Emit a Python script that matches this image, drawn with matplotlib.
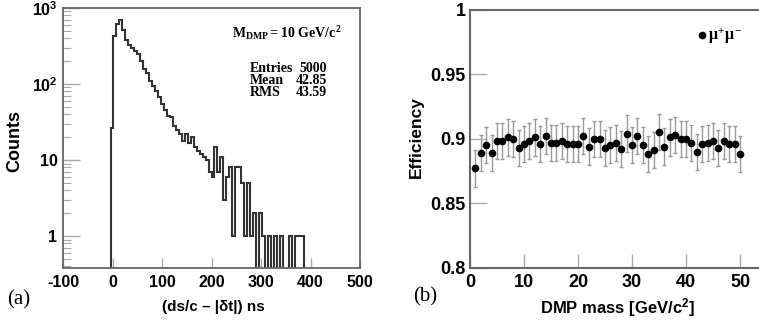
import numpy as np
import matplotlib.pyplot as plt
from matplotlib.lines import Line2D

plt.rcParams['font.family'] = ['Liberation Sans', 'DejaVu Sans']
plt.rcParams['font.weight'] = 'bold'
plt.rcParams['axes.unicode_minus'] = False
plt.rcParams['mathtext.fontset'] = 'custom'
plt.rcParams['mathtext.rm'] = 'Liberation Serif:bold'
plt.rcParams['mathtext.it'] = 'Liberation Serif'
plt.rcParams['mathtext.bf'] = 'Liberation Sans:bold'

# (a) histogram of ds/c - |dt|, 100 bins from -100 to 500 ns
bin_lo, bin_hi, n_bins = -100, 500, 100
first_bin = -4  # left edge of first filled bin
counts = [26, 430, 610, 700, 520, 380, 330, 300, 270, 250,
          200, 160, 140, 110, 95, 80, 68, 55, 45, 38,
          37, 28, 25, 22, 18, 22, 17, 20, 15, 13,
          12, 11, 10, 7, 6, 15, 7, 11, 3, 6,
          8, 1, 8, 8, 5, 1, 5, 1, 2, 0,
          2, 1, 0, 1, 0, 1, 0, 1, 0, 0,
          1, 0, 1, 1, 1, 0]
hist_xticks = [-100, 0, 100, 200, 300, 400, 500]
hist_yticks = [1, 10, 100, 1000]
hist_ylabels = ['1', '10', r'$\mathbf{10^{2}}$', r'$\mathbf{10^{3}}$']
stats = [('Entries', '5000'), ('Mean', '42.85'), ('RMS', '43.59')]

# (b) efficiency vs DMP mass
mass = list(range(1, 51))
eff = [0.877, 0.889, 0.895, 0.889, 0.898, 0.898, 0.901, 0.900, 0.893, 0.896,
       0.898, 0.901, 0.896, 0.902, 0.897, 0.897, 0.898, 0.896, 0.896, 0.896,
       0.902, 0.894, 0.900, 0.900, 0.893, 0.895, 0.897, 0.892, 0.904, 0.895,
       0.902, 0.895, 0.888, 0.891, 0.905, 0.894, 0.901, 0.903, 0.900, 0.900,
       0.897, 0.890, 0.896, 0.897, 0.898, 0.893, 0.898, 0.896, 0.896, 0.888]
eff_err = [0.014] * 50
eff_yticks = [0.8, 0.85, 0.9, 0.95, 1.0]
eff_ylabels = ['0.8', '0.85', '0.9', '0.95', '1']

W, H = 759, 320
fig = plt.figure(figsize=(W / 100, H / 100), dpi=100)
spine_c = '#666666'

# ---- panel (a)
ax1 = fig.add_axes([63 / W, 1 - 268 / H, (360 - 63) / W, (268 - 8) / H])
edges = np.linspace(bin_lo, bin_hi, n_bins + 1)
full = np.zeros(n_bins)
i0 = int(round((first_bin - bin_lo) / (edges[1] - edges[0])))
full[i0:i0 + len(counts)] = counts
ax1.stairs(np.where(full > 0, full, 1e-3), edges, baseline=1e-3,
           color='#333333', lw=1.5)
ax1.set_yscale('log')
ax1.set_ylim(0.38, 1000)
ax1.set_xlim(bin_lo, bin_hi)
ax1.set_xticks(hist_xticks)
ax1.set_yticks(hist_yticks)
ax1.set_yticklabels(hist_ylabels)
ax1.tick_params(axis='x', direction='in', length=7, width=1, color='#aaaaaa',
                labelsize=11.5, pad=5)
ax1.tick_params(axis='y', which='major', direction='in', length=12, width=1,
                color='#aaaaaa', labelsize=11.5, pad=4)
ax1.tick_params(axis='y', which='minor', direction='in', length=6, width=0.8,
                color='#aaaaaa')
for s in ax1.spines.values():
    s.set_color(spine_c)
    s.set_linewidth(1.3)

fig.text(232 / W, 1 - 33 / H, r'$\mathrm{M_{DMP} = 10\ GeV/c^{2}}$',
         fontsize=10, va='center', ha='left')
for k, (name, val) in enumerate(stats):
    y = 1 - (68 + 12 * k) / H
    fig.text(250 / W, y, name, family='Liberation Serif', weight='bold',
             fontsize=10, va='center', ha='left')
    fig.text(327 / W, y, val, family='Liberation Serif', weight='bold',
             fontsize=10, va='center', ha='right')

fig.text(15 / W, 1 - 141 / H, 'Counts', rotation=90, fontsize=13,
         ha='center', va='center')
fig.text(213 / W, 1 - 307 / H, '(ds/c \u2013 |\u03b4t|) ns', fontsize=11,
         ha='center', va='center')
fig.text(7 / W, 1 - 300 / H, '(a)', family='Liberation Serif', weight='normal',
         fontsize=15, ha='left', va='center')

# ---- panel (b)
ax2 = fig.add_axes([470 / W, 1 - 268 / H, (762 - 470) / W, (268 - 9.5) / H])
ax2.errorbar(mass, eff, yerr=eff_err, fmt='o', color='black', ms=4.5,
             ecolor='#999999', elinewidth=1, capsize=1.5, capthick=1)
ax2.set_xlim(0, 54.07)
ax2.set_ylim(0.8, 1.0)
ax2.set_xticks(range(0, 51, 10))
ax2.set_yticks(eff_yticks)
ax2.set_yticklabels(eff_ylabels)
ax2.tick_params(axis='x', direction='in', length=10, width=1, color='#aaaaaa',
                labelsize=13, pad=4)
ax2.tick_params(axis='y', direction='in', length=12, width=1, color='#aaaaaa',
                labelsize=13, pad=3)
for s in ax2.spines.values():
    s.set_color(spine_c)
    s.set_linewidth(1.5)
ax2.spines['right'].set_visible(False)

for ax in (ax1, ax2):
    for lab in ax.get_xticklabels() + ax.get_yticklabels():
        lab.set_fontweight('bold')

h = Line2D([], [], marker='o', color='black', ms=4.5, ls='none')
ax2.legend([h], [r'$\mu^{+}\mu^{-}$'], frameon=False, loc='center left',
           bbox_to_anchor=(699 / W, 1 - 36 / H), bbox_transform=fig.transFigure,
           handlelength=0.4, handletextpad=0.15, fontsize=11.5, borderpad=0,
           borderaxespad=0)

fig.text(416 / W, 1 - 137 / H, 'Efficiency', rotation=90, fontsize=12.5,
         ha='center', va='center')
fig.text(618 / W, 1 - 308 / H, r'DMP mass [GeV/c$\mathbf{^{2}}$]', fontsize=12,
         ha='center', va='center')
fig.text(413 / W, 1 - 297 / H, '(b)', family='Liberation Serif', weight='normal',
         fontsize=15, ha='left', va='center')

fig.savefig('out.png', dpi=100)
